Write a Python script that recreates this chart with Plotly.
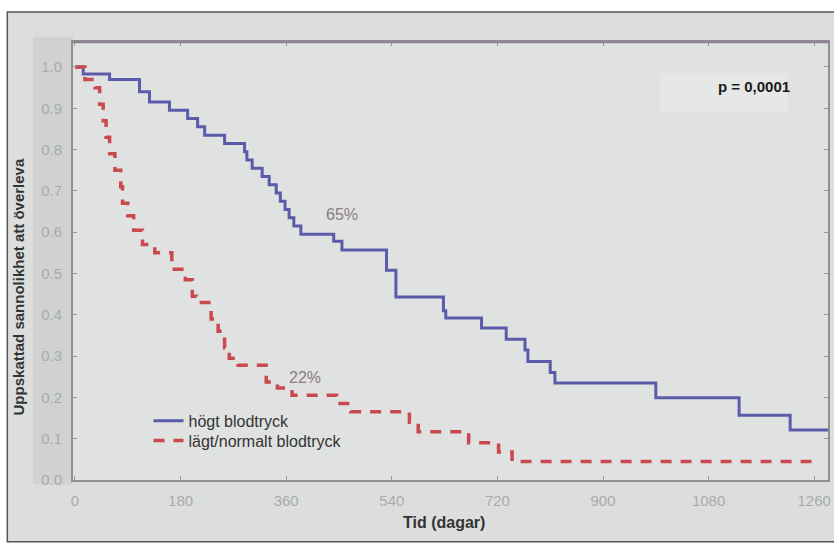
import plotly.graph_objects as go

# --- data ---
high_days = [0, 14, 59, 110, 127, 161, 192, 209, 221, 255, 289, 293, 302, 319, 331, 343, 350, 358,
             365, 373, 385, 441, 455, 531, 547, 628, 632, 693, 735, 767, 772, 810, 818, 990, 1132,
             1219, 1285]
high_surv = [1.0, 0.983, 0.970, 0.94, 0.915, 0.895, 0.875, 0.855, 0.835, 0.815, 0.795, 0.775, 0.755,
             0.735, 0.715, 0.695, 0.675, 0.655, 0.635, 0.615, 0.595, 0.578, 0.557, 0.508, 0.443, 0.41,
             0.392, 0.368, 0.341, 0.315, 0.287, 0.26, 0.235, 0.199, 0.157, 0.121, 0.121]

low_days = [0, 17, 34, 42, 48, 53, 59, 68, 78, 81, 90, 100, 115, 136, 165, 188, 200, 207, 232, 244,
            255, 263, 278, 326, 345, 370, 446, 470, 570, 585, 671, 722, 745, 1265]
low_surv = [1.0, 0.97, 0.95, 0.91, 0.87, 0.83, 0.79, 0.75, 0.71, 0.67, 0.64, 0.605, 0.57, 0.55, 0.51,
            0.485, 0.445, 0.43, 0.39, 0.36, 0.32, 0.295, 0.278, 0.237, 0.223, 0.205, 0.185, 0.165,
            0.14, 0.117, 0.09, 0.068, 0.045, 0.045]

x_ticks = [0, 180, 360, 540, 720, 900, 1080, 1260]
y_ticks = [0.0, 0.1, 0.2, 0.3, 0.4, 0.5, 0.6, 0.7, 0.8, 0.9, 1.0]
y_tick_labels = ["0.0", "0.1", "0.2", "0.3", "0.4", "0.5", "0.6", "0.7", "0.8", "0.9", "1.0"]

series_names = ["högt blodtryck", "lägt/normalt blodtryck"]
FONT = "Liberation Sans, Arial, sans-serif"

fig = go.Figure()
fig.add_trace(go.Scatter(x=high_days, y=high_surv, mode="lines", line_shape="hv",
                         name=series_names[0], legend="legend",
                         line=dict(color="#5a5caa", width=3)))
fig.add_trace(go.Scatter(x=low_days, y=low_surv, mode="lines", line_shape="hv",
                         name=series_names[1], legend="legend2",
                         line=dict(color="#c9494f", width=3.5, dash="11px,9px")))

shapes = [
    # outer frame/background
    dict(type="rect", xref="paper", yref="paper", x0=-0.087, x1=1.03, y0=-0.141, y1=1.0685,
         fillcolor="#dcdedd", line=dict(color="#555555", width=1.5), layer="below"),
    # darker band behind y tick labels
    dict(type="rect", xref="paper", yref="paper", x0=-0.053, x1=0.0, y0=-0.01, y1=1.012,
         fillcolor="#d0d2d1", line=dict(width=0), layer="below"),
    # plot area
    dict(type="rect", xref="paper", yref="paper", x0=0, x1=1, y0=0, y1=1,
         fillcolor="#e0e2e1", line=dict(width=0), layer="below"),
    # p-value box
    dict(type="rect", xref="x", yref="y", x0=998, x1=1214, y0=0.889, y1=0.985,
         fillcolor="#e6e8e7", line=dict(width=0), layer="below"),
    # top frame line
    dict(type="line", xref="paper", yref="paper", x0=0, x1=1, y0=1, y1=1,
         line=dict(color="#8e8193", width=2.5), layer="above"),
]

annotations = [
    dict(text="65%", x=455, y=0.643, xref="x", yref="y", showarrow=False,
         xanchor="center", yanchor="middle",
         font=dict(family=FONT, size=16, color="#8a7c82")),
    dict(text="22%", x=392, y=0.249, xref="x", yref="y", showarrow=False,
         xanchor="center", yanchor="middle",
         font=dict(family=FONT, size=16, color="#8a7c82")),
    dict(text="<b>p = 0,0001</b>", x=1157, y=0.953, xref="x", yref="y", showarrow=False,
         xanchor="center", yanchor="middle",
         font=dict(family=FONT, size=15, color="#1a1a1a")),
    dict(text="<b>Uppskattad sannolikhet att överleva</b>", textangle=-90,
         x=-0.0726, y=0.44, xref="paper", yref="paper", showarrow=False,
         xanchor="center", yanchor="middle",
         font=dict(family=FONT, size=15, color="#333333")),
    dict(text="<b>Tid (dagar)</b>", x=0.491, y=-0.096, xref="paper", yref="paper",
         showarrow=False, xanchor="center", yanchor="middle",
         font=dict(family=FONT, size=16, color="#333333")),
]

legend_style = dict(xanchor="left", yanchor="top", bgcolor="rgba(0,0,0,0)",
                    font=dict(family=FONT, size=16, color="#333333"), itemwidth=30)

fig.update_layout(
    width=834, height=547,
    margin=dict(l=73, r=3, t=42, b=67),
    paper_bgcolor="white",
    plot_bgcolor="rgba(0,0,0,0)",
    font=dict(family=FONT),
    shapes=shapes,
    annotations=annotations,
    showlegend=True,
    legend=dict(x=0.100, y=0.174, **legend_style),
    legend2=dict(x=0.100, y=0.1285, **legend_style),
    xaxis=dict(range=[-3.4, 1283.5], tickvals=x_ticks, ticktext=[str(v) for v in x_ticks],
               showgrid=False, zeroline=False, showline=True, linecolor="#8f9191", linewidth=2,
               mirror="ticks", ticks="inside", ticklen=4, tickcolor="#9a9c9c",
               tickfont=dict(family=FONT, size=15, color="#a9abaa"), ticklabelstandoff=6),
    yaxis=dict(range=[0, 1.0605], tickvals=y_ticks, ticktext=y_tick_labels,
               showgrid=False, zeroline=False, showline=True, linecolor="#8f9191", linewidth=2,
               mirror="ticks", ticks="inside", ticklen=4, tickcolor="#9a9c9c",
               tickfont=dict(family=FONT, size=15, color="#a9abaa"), ticklabelstandoff=6),
)

fig.write_html("out.html", config={"displayModeBar": False},
               post_script="document.body.style.margin='0';document.body.style.overflow='hidden';")
